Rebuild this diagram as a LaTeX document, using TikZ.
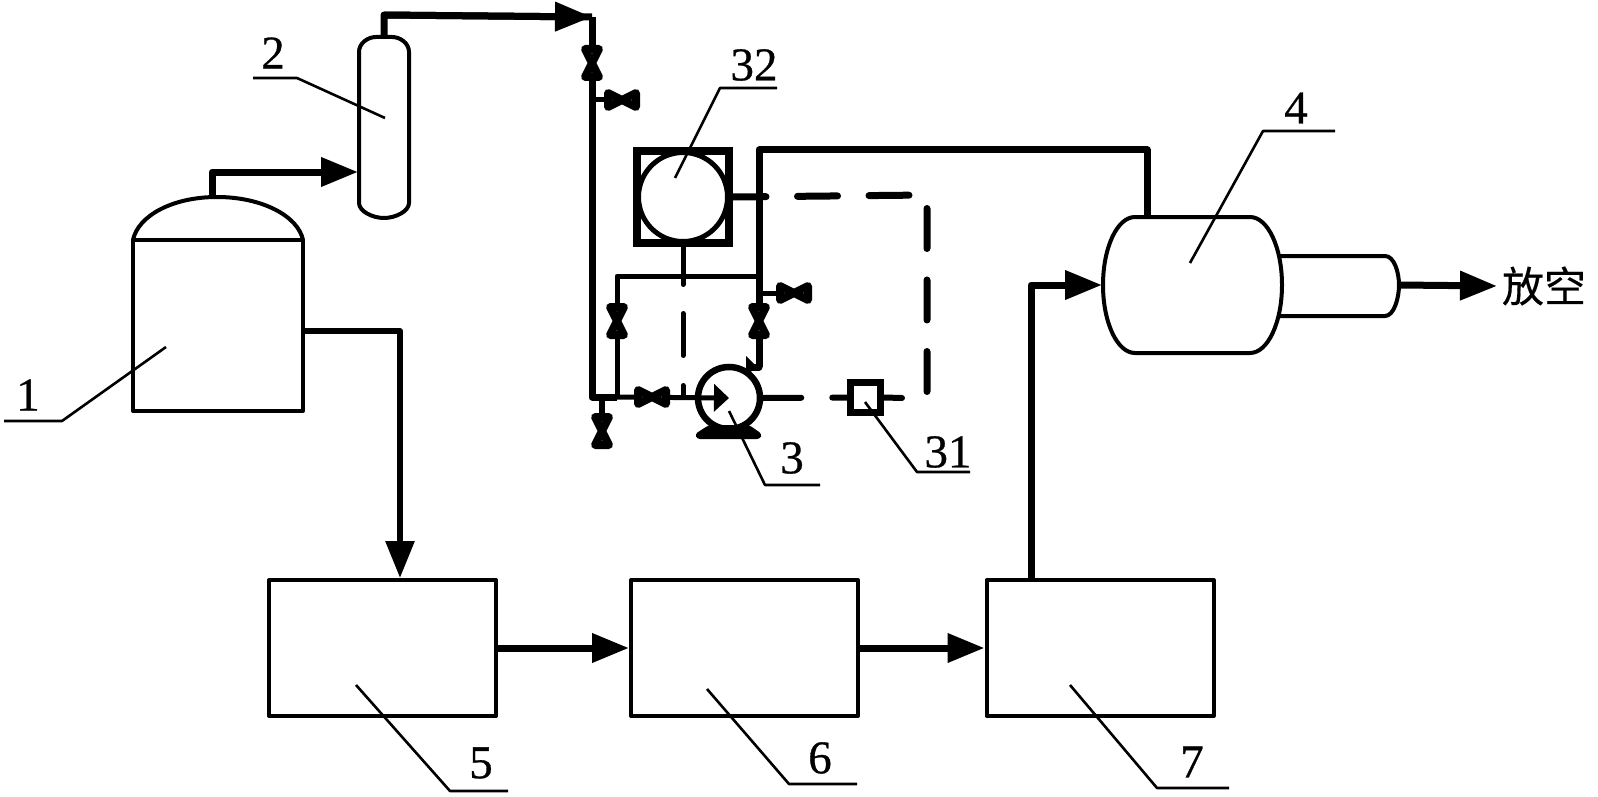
\documentclass[tikz,border=0pt]{standalone}
\usepackage{fontspec}
\setmainfont[FakeBold=0.6]{Liberation Serif}
\newfontfamily\cjk[FakeBold=0.4]{Noto Sans CJK SC}
\usetikzlibrary{arrows.meta}
\tikzset{
  outline/.style={line width=4pt,line join=round},
  pipe/.style={line width=7pt,line join=round},
  thinpipe/.style={line width=5pt,line join=round},
  flow/.style={pipe,-{Triangle[length=37pt,width=28pt]}},
  leader/.style={line width=2.6pt,line join=round},
  numlabel/.style={inner sep=0pt,font=\fontsize{47}{47}\selectfont},
  cjklabel/.style={inner sep=0pt,font=\cjk\fontsize{42}{42}\selectfont},
  unitbox/.style={draw,outline,minimum width=227pt,minimum height=136pt,inner sep=0pt},
  valveshape/.style={line width=8pt,line join=round,fill=white},
  pics/vvalve/.style={code={\draw[valveshape] (-7,-14) -- (7,-14) -- (-7,14) -- (7,14) -- cycle;}},
  pics/hvalve/.style={code={\draw[valveshape] (-14,-7) -- (-14,7) -- (14,-7) -- (14,7) -- cycle;}},
}
\begin{document}
\begin{tikzpicture}[x=1pt,y=-1pt]
\useasboundingbox (0,0) rectangle (1598,797);
% junction coordinates
\coordinate (t1top) at (212,197);
\coordinate (t1bend) at (212,172);
\coordinate (v2in) at (358,172);
\coordinate (v2top) at (384,37);
\coordinate (v2bend) at (384,15);
\coordinate (maintop) at (592,17);
\coordinate (mainbot) at (592,397);
\coordinate (t1out) at (303,331);
\coordinate (t1bend2) at (400,331);
\coordinate (drain) at (602,397);
\coordinate (vent1) at (605,100);
\coordinate (vent1s) at (592,100);
\coordinate (byleft) at (617,397);
\coordinate (bytl) at (617,276);
\coordinate (bytr) at (759,276);
\coordinate (riser) at (759,367);
\coordinate (rtop) at (759,150);
\coordinate (rtop2) at (1147,150);
\coordinate (v4top) at (1147,217);
\coordinate (vent2s) at (759,293);
\coordinate (vent2) at (778,293);
\coordinate (gbot) at (683,243);
\coordinate (gjoin) at (683,397);
\coordinate (dcorner) at (927,195);
\coordinate (dend) at (927,399);
\coordinate (in4) at (1102,285);
\coordinate (b7up) at (1031,285);
\coordinate (out4) at (1399,285);
\coordinate (exit) at (1497,286);

% tank 1
\draw[outline] (133,240) -- (303,240) -- (303,411) -- (133,411) -- cycle;
\draw[outline] (133,240) .. controls (138,216) and (172,197) .. (217,197) .. controls (262,197) and (298,216) .. (303,240);
% vessel 2
\draw[outline] (359,52) .. controls (359,43) and (368,37) .. (376,37) -- (392,37) .. controls (400,37) and (409,43) .. (409,52) -- (409,203) .. controls (409,211) and (396,218) .. (384,218) .. controls (372,218) and (359,211) .. (359,203) -- cycle;
% vessel 4
\draw[outline] (1135,217) -- (1250,217) .. controls (1268,217) and (1282,248) .. (1282,285) .. controls (1282,322) and (1268,353) .. (1250,353) -- (1135,353) .. controls (1117,353) and (1103,322) .. (1103,285) .. controls (1103,248) and (1117,217) .. (1135,217) -- cycle;
\draw[outline] (1278,256) -- (1385,256) .. controls (1394,256) and (1399,272) .. (1399,285) .. controls (1399,298) and (1394,316) .. (1385,316) -- (1278,316);
% boxes
\node[unitbox] (b5) at (382.5,648) {};
\node[unitbox] (b6) at (744.5,648) {};
\node[unitbox] (b7) at (1100,648) {};

% pipes
\draw[flow] (t1top) -- (t1bend) -- (v2in);
\draw[pipe] (v2top) -- (v2bend) -- (maintop);
\draw[flow] (v2bend) -- (maintop);
\draw[pipe] (maintop) -- (mainbot) -- (byleft);
\draw[thinpipe] (vent1s) -- (vent1);
\draw[pipe,line width=6pt] (drain) -- (602,415);
\draw[flow,line width=6pt] (t1out) -- (t1bend2) -- (b5.north -| t1bend2);
\draw[flow] (b5.east) -- (b6.west);
\draw[flow] (b6.east) -- (b7.west);
\draw[flow] (b7.north -| b7up) -- (b7up) -- (in4);
\draw[flow] (out4) -- (exit);
\draw[thinpipe] (byleft) -- (bytl) -- (bytr);
\draw[pipe] (riser) -- (rtop) -- (rtop2) -- (v4top);
\draw[thinpipe] (vent2s) -- (vent2);

% pump 3
\node[draw,circle,line width=6.5pt,minimum size=62pt,inner sep=0pt] (pump) at (729,398) {};
\draw[line width=5pt,-{Triangle[length=15pt,width=27pt]}] (byleft) -- (pump.center);
\draw[pipe,line cap=round] (751,367) -- (riser);
\fill (746,356) -- (758,368) -- (746,374) -- cycle;
\fill[rounded corners=3pt] (709,425) -- (749,425) -- (762,434) -- (760,439) -- (697,439) -- (695,434) -- cycle;

% gauge 32
\node[draw,line width=8pt,minimum size=92pt,inner sep=0pt] (gauge) at (683,197) {};
\node[draw,circle,line width=5pt,minimum size=89pt,inner sep=0pt] (dial) at (683,197) {};

% control lines
\draw[thinpipe,line cap=round,dash pattern=on 41.5pt off 29pt on 42pt off 30pt on 14pt off 10pt] (gbot) -- (gjoin);
\draw[line width=7pt,line cap=round,dash pattern=on 40pt off 31.5pt,dash phase=7pt] (gauge.east) -- (dcorner) -- (dend);

% sensor 31
\node[draw,fill=white,line width=7pt,minimum size=30pt,inner sep=0pt] (sensor) at (865.5,397.5) {};
\coordinate (s2) at (902,398);
\draw[line width=6pt,line cap=round,dash pattern=on 38pt off 31pt on 30pt off 10pt] (pump.east) -- (sensor.west);
\draw[line width=6pt,line cap=round] (sensor.east) -- (s2);

% valves
\pic at (592,63) {vvalve};
\pic at (622,100) {hvalve};
\pic at (617,321) {vvalve};
\pic at (759,321) {vvalve};
\pic at (794,293) {hvalve};
\pic at (652,397) {hvalve};
\pic at (602,431) {vvalve};

% labels and leaders
\node[numlabel] (n1) at (28,395) {1};
\node[numlabel] (n2) at (273,53) {2};
\node[numlabel] (n3) at (792,458) {3};
\node[numlabel] (n31) at (948,452) {31};
\node[numlabel] (n32) at (754,65) {32};
\node[numlabel] (n4) at (1296,108) {4};
\node[numlabel] (n5) at (481,763) {5};
\node[numlabel] (n6) at (820,758) {6};
\node[numlabel] (n7) at (1192,762) {7};
\node[cjklabel] (vent) at (1544,286) {放空};
\draw[leader] (166,347) -- (62,421) -- (4,421);
\draw[leader] (385,118) -- (297,78) -- (253,78);
\draw[leader] (729,411) -- (765,485) -- (820,485);
\draw[leader] (865,402) -- (917,472) -- (970,472);
\draw[leader] (675,178) -- (720,88) -- (777,88);
\draw[leader] (1190,263) -- (1263,131) -- (1335,131);
\draw[leader] (356,685) -- (450,791) -- (508,791);
\draw[leader] (707,689) -- (789,784) -- (857,784);
\draw[leader] (1070,685) -- (1157,788) -- (1229,788);
\end{tikzpicture}
\end{document}
